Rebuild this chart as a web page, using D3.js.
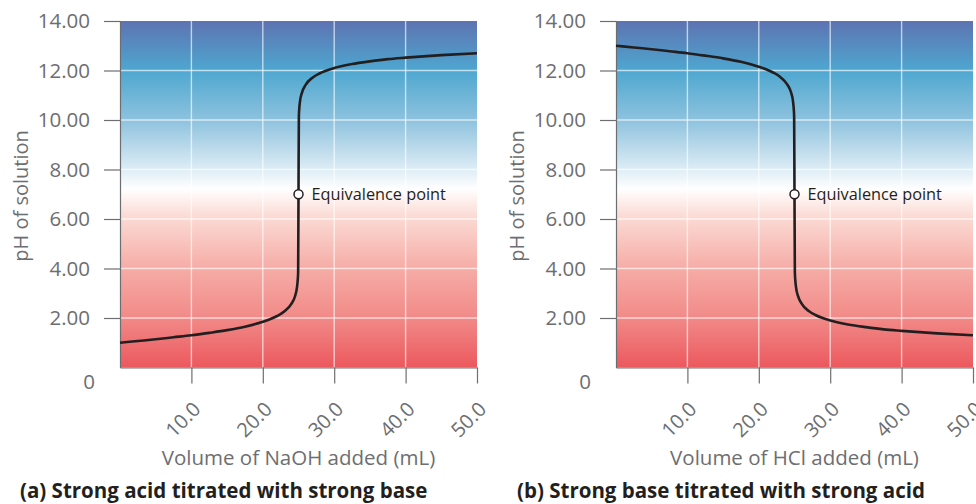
<!DOCTYPE html>
<html><head><meta charset="utf-8">
<script src="https://cdn.jsdelivr.net/npm/d3@7"></script>
<style>body{margin:0;background:#fff;overflow:hidden}</style>
</head><body><svg id="chart" width="976" height="504"></svg>
<script>
// ---- data ----
const volumes = [0, 2.5, 5, 7.5, 10, 12.5, 15, 17.5, 20, 21, 22, 23, 24, 24.5, 24.8, 24.9, 24.95, 25, 25.05, 25.1, 25.2, 25.5, 26, 27, 28, 30, 32.5, 35, 37.5, 40, 45, 50];
const phAcidWithBase = [1.00, 1.07, 1.14, 1.22, 1.30, 1.40, 1.51, 1.65, 1.85, 1.95, 2.08, 2.26, 2.57, 2.87, 3.27, 3.57, 3.87, 7.00, 10.13, 10.43, 10.73, 11.12, 11.42, 11.72, 11.89, 12.10, 12.26, 12.37, 12.46, 12.52, 12.62, 12.70];
const phBaseWithAcid = [13.00, 12.93, 12.86, 12.78, 12.70, 12.60, 12.49, 12.35, 12.15, 12.05, 11.92, 11.74, 11.43, 11.13, 10.73, 10.43, 10.13, 7.00, 3.87, 3.57, 3.27, 2.88, 2.58, 2.28, 2.11, 1.90, 1.74, 1.63, 1.54, 1.48, 1.38, 1.30];
const equivalencePoint = {volume: 25, ph: 7};
const xTickValues = [10, 20, 30, 40, 50];
const yTickValues = [0, 2, 4, 6, 8, 10, 12, 14];
const xTitles = ["Volume of NaOH added (mL)", "Volume of HCl added (mL)"];
const captions = ["(a) Strong acid titrated with strong base", "(b) Strong base titrated with strong acid"];
const yTitle = "pH of solution";
const equivalenceLabel = "Equivalence point";

// ---- layout ----
const svg = d3.select("#chart");
const FONT = "'Open Sans', sans-serif";
const GRAY = "#6d6e71";
const INK = "#231f20";
const plotTop = 21, plotBottom = 367.5;
const panelDefs = [
  {x0: 120, x1: 477, series: phAcidWithBase, xTitle: xTitles[0], caption: captions[0], capX: 20, yTitleX: 28},
  {x0: 616, x1: 973, series: phBaseWithAcid, xTitle: xTitles[1], caption: captions[1], capX: 517, yTitleX: 524}
];

// gradient (pH 14 at top -> 0 at bottom)
const gradStops = [
  [0, "#5d73b2"], [0.143, "#4ea7d0"], [0.286, "#8ec2de"], [0.42, "#d9eaf4"],
  [0.485, "#ffffff"], [0.56, "#fbdcd6"], [0.714, "#f6aca6"], [0.857, "#f18a88"], [1, "#ec585e"]
];
const defs = svg.append("defs");
const lg = defs.append("linearGradient").attr("id", "phgrad")
  .attr("x1", 0).attr("y1", 0).attr("x2", 0).attr("y2", 1);
gradStops.forEach(([o, c]) => lg.append("stop").attr("offset", o).attr("stop-color", c));

const y = d3.scaleLinear().domain([0, 14]).range([plotBottom, plotTop]);

panelDefs.forEach(p => {
  const x = d3.scaleLinear().domain([0, 50]).range([p.x0, p.x1]);
  const g = svg.append("g");

  g.append("rect").attr("x", p.x0).attr("y", plotTop)
    .attr("width", p.x1 - p.x0).attr("height", plotBottom - plotTop)
    .attr("fill", "url(#phgrad)");

  // grid
  g.selectAll(".vg").data(xTickValues.slice(0, -1)).join("line")
    .attr("x1", d => x(d)).attr("x2", d => x(d)).attr("y1", plotTop).attr("y2", plotBottom)
    .attr("stroke", "#fff").attr("stroke-opacity", 0.65).attr("stroke-width", 1.4);
  g.selectAll(".hg").data(yTickValues.filter(v => v > 0 && v < 14)).join("line")
    .attr("y1", d => y(d)).attr("y2", d => y(d)).attr("x1", p.x0).attr("x2", p.x1)
    .attr("stroke", "#fff").attr("stroke-opacity", 0.65).attr("stroke-width", 1.4);

  // y axis
  const ya = g.append("g").attr("transform", `translate(${p.x0},0)`)
    .call(d3.axisLeft(y).tickValues(yTickValues).tickSize(16).tickPadding(14).tickSizeOuter(0)
      .tickFormat(d => d === 0 ? "0" : d3.format(".2f")(d)));
  ya.select(".domain").attr("stroke", GRAY).attr("stroke-width", 1.2);
  ya.selectAll(".tick line").attr("stroke", GRAY).attr("stroke-width", 1.2)
    .filter(d => d === 0).remove();
  ya.selectAll(".tick text").attr("fill", GRAY).style("font-family", FONT).style("font-size", "20.5px");
  ya.selectAll(".tick").filter(d => d === 0).select("text").attr("x", -25).attr("dy", "1.0em");

  // x axis
  const xa = g.append("g").attr("transform", `translate(0,${plotBottom})`)
    .call(d3.axisBottom(x).tickValues(xTickValues).tickSize(16).tickSizeOuter(0)
      .tickFormat(d3.format(".1f")));
  xa.select(".domain").attr("stroke", GRAY).attr("stroke-width", 1.2);
  xa.selectAll(".tick line").attr("stroke", GRAY).attr("stroke-width", 1.2);
  xa.selectAll(".tick text").attr("fill", GRAY).style("font-family", FONT).style("font-size", "20px")
    .attr("text-anchor", "end").attr("dy", null).attr("y", null)
    .attr("transform", "translate(10,43) rotate(-45)");

  // axis titles
  g.append("text").attr("x", (p.x0 + p.x1) / 2).attr("y", 465)
    .attr("text-anchor", "middle").attr("fill", GRAY)
    .style("font-family", FONT).style("font-size", "20.5px").text(p.xTitle);
  g.append("text").attr("transform", `translate(${p.yTitleX},196) rotate(-90)`)
    .attr("text-anchor", "middle").attr("fill", GRAY)
    .style("font-family", FONT).style("font-size", "20px").text(yTitle);

  // caption
  g.append("text").attr("x", p.capX).attr("y", 498).attr("fill", INK)
    .style("font-family", FONT).style("font-size", "20.5px").style("font-weight", 700).text(p.caption);

  // curve
  const pts = volumes.map((v, i) => [v, p.series[i]]);
  g.append("path").datum(pts)
    .attr("d", d3.line().x(d => x(d[0])).y(d => y(d[1])).curve(d3.curveMonotoneX))
    .attr("fill", "none").attr("stroke", INK).attr("stroke-width", 2.6);

  // equivalence point
  g.append("circle").attr("cx", x(equivalencePoint.volume)).attr("cy", y(equivalencePoint.ph))
    .attr("r", 4.5).attr("fill", "#fff").attr("stroke", INK).attr("stroke-width", 1.5);
  g.append("text").attr("x", x(equivalencePoint.volume) + 13).attr("y", y(equivalencePoint.ph) + 5.5)
    .attr("fill", INK).style("font-family", FONT).style("font-size", "16.3px").text(equivalenceLabel);
});
</script></body></html>
